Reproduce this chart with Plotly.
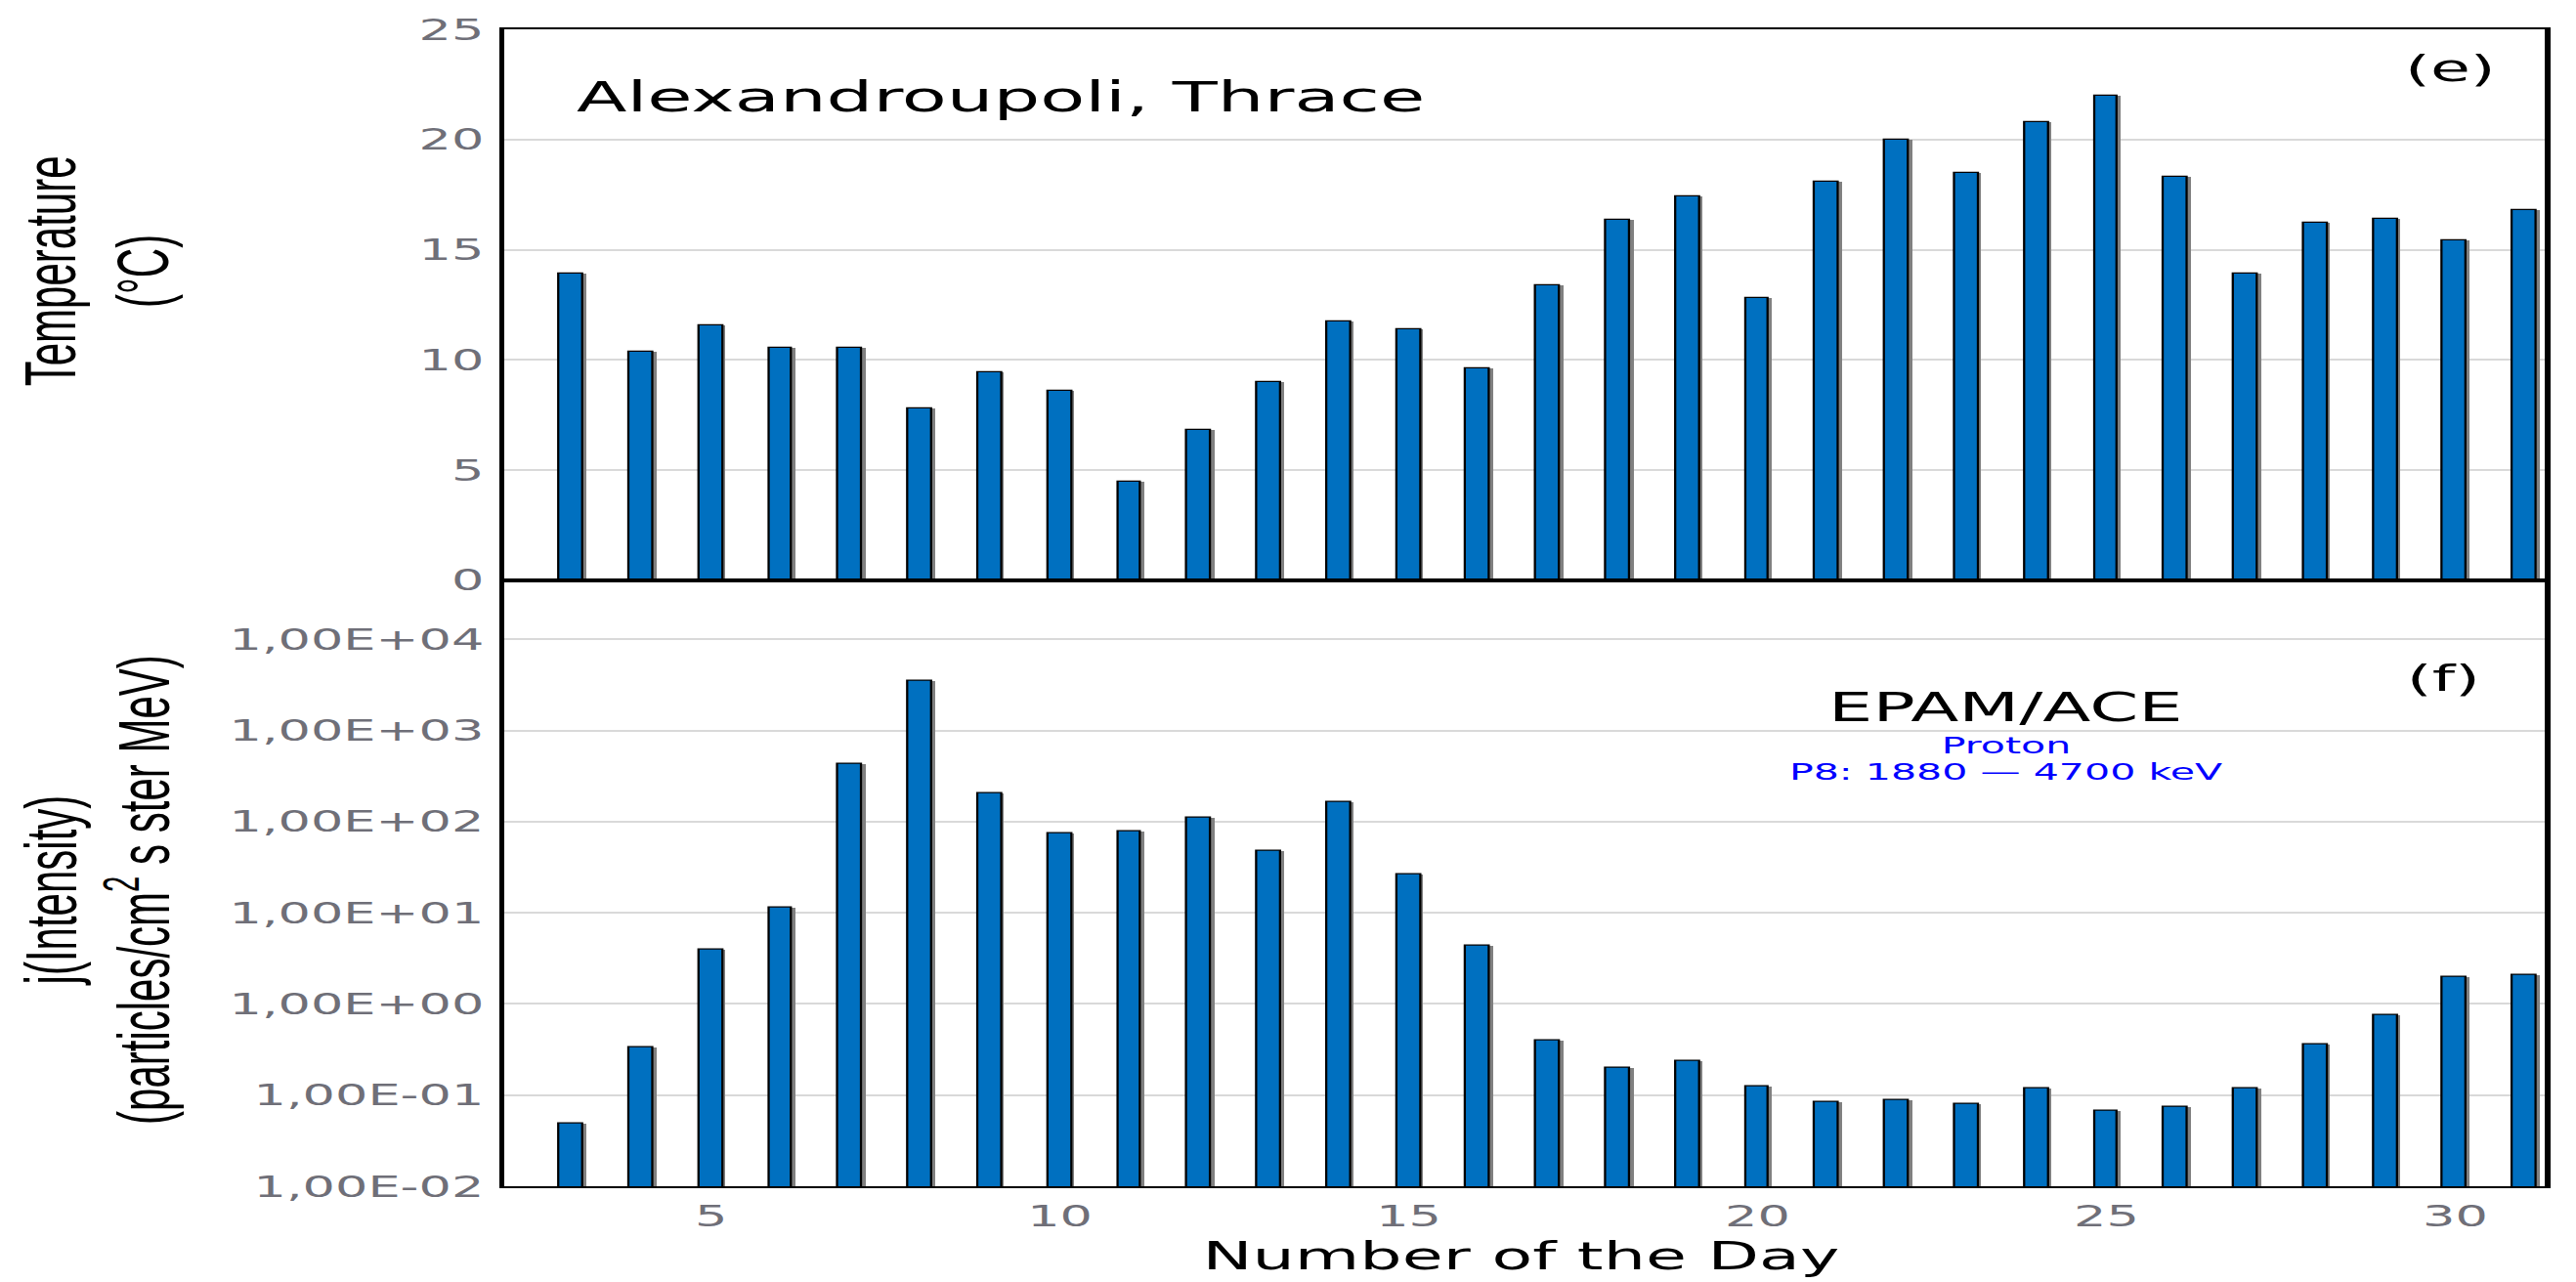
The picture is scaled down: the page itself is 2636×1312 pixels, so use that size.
import plotly.graph_objects as go

# ---------------- data ----------------
days = list(range(3, 32))
temperature = [13.9, 10.35, 11.55, 10.55, 10.55, 7.8, 9.45, 8.6, 4.45, 6.8, 9.0, 11.75, 11.4, 9.6,
               13.4, 16.35, 17.4, 12.8, 18.1, 20.0, 18.5, 20.8, 22.0, 18.3, 13.9, 16.2, 16.4, 15.4, 16.8]
intensity = [0.0484, 0.336, 3.92, 11.3, 432, 3490, 206, 74.5, 78.9, 111, 47.2, 164, 26.7, 4.34,
             0.399, 0.201, 0.234, 0.124, 0.085, 0.089, 0.080, 0.118, 0.068, 0.075, 0.118, 0.36,
             0.76, 1.96, 2.06]
temp_ticks = [0, 5, 10, 15, 20, 25]
log_ticks = [1e-2, 1e-1, 1e0, 1e1, 1e2, 1e3, 1e4]
log_ticktext = ["1,00E-02", "1,00E-01", "1,00E+00", "1,00E+01", "1,00E+02", "1,00E+03", "1,00E+04"]
day_ticks = [5, 10, 15, 20, 25, 30]

# ---------------- style ----------------
W_OUT, H = 2636, 1312
W = 1506                      # rendered width, stretched horizontally to W_OUT
S = W_OUT / W
BLUE = "rgb(0,112,192)"
SHADOW = "rgb(128,128,128)"
TICKCOL = "#6f6f78"
BW = 0.34
TICKFONT = dict(family="DejaVu Sans", size=30, color=TICKCOL)
TITLEFONT = "Liberation Sans Narrow, Arial Narrow, Liberation Sans, sans-serif"

fig = go.Figure()

for yax, vals in (("y", temperature), ("y2", intensity)):
    xa = "x" if yax == "y" else "x2"
    fig.add_trace(go.Bar(x=days, y=vals, width=BW, offset=-BW / 2 + 0.04,
                         marker=dict(color=SHADOW, line=dict(width=0)),
                         xaxis=xa, yaxis=yax, hoverinfo="skip", showlegend=False))
    fig.add_trace(go.Bar(x=days, y=vals, width=BW, offset=-BW / 2,
                         marker=dict(color=BLUE, line=dict(color="black", width=1.3)),
                         xaxis=xa, yaxis=yax, showlegend=False))

split = (1214 - 588) / 1195

common_x = dict(range=[2.04, 31.29], showline=True, linecolor="black", linewidth=2,
                mirror=True, showgrid=False, zeroline=False, ticks="")
fig.update_layout(
    width=W, height=H,
    margin=dict(l=295, r=18, t=19, b=98),
    paper_bgcolor="white", plot_bgcolor="white",
    barmode="overlay", bargap=0,
    xaxis=dict(domain=[0, 1], anchor="y", showticklabels=False, matches="x2", **common_x),
    yaxis=dict(domain=[split, 1], range=[0, 25], tickvals=temp_ticks,
               showline=True, linecolor="black", linewidth=3, mirror=True,
               showgrid=True, gridcolor="#d9d9d9", gridwidth=2, zeroline=False,
               tickfont=TICKFONT, ticks="", ticklabelstandoff=3),
    xaxis2=dict(domain=[0, 1], anchor="y2", tickvals=day_ticks, tickfont=TICKFONT,
                ticklabelstandoff=3, **common_x),
    yaxis2=dict(domain=[0, split], type="log", range=[-2, 4.648], tickvals=log_ticks,
                ticktext=log_ticktext, showline=True, linecolor="black", linewidth=3,
                mirror=True, showgrid=True, gridcolor="#d9d9d9", gridwidth=2,
                zeroline=False, tickfont=TICKFONT, ticks="", ticklabelstandoff=3),
)


def py(ypix):
    return (1214 - ypix) / 1195


def px(xpix_full):
    return (xpix_full / S - 295) / (1488 - 295)


ann = [
    dict(text="Alexandroupoli, Thrace", x=px(586), y=py(89), xanchor="left", yanchor="middle",
         font=dict(family="DejaVu Sans", size=43, color="black")),
    dict(text="(e)", x=px(2507), y=py(59), xanchor="center", yanchor="middle",
         font=dict(family="DejaVu Sans", size=38, color="black")),
    dict(text="(f)", x=px(2500), y=py(689), xanchor="center", yanchor="middle",
         font=dict(family="DejaVu Sans", size=38, color="black")),
    dict(text="EPAM/ACE", x=px(2053), y=py(719), xanchor="center", yanchor="middle",
         font=dict(family="DejaVu Sans", size=41, color="black")),
    dict(text="Proton", x=px(2053), y=py(759), xanchor="center", yanchor="middle",
         font=dict(family="DejaVu Sans", size=23.5, color="blue")),
    dict(text="P8: 1880 \u2014 4700 keV", x=px(2053), y=py(786), xanchor="center",
         yanchor="middle", font=dict(family="DejaVu Sans", size=23.5, color="blue")),
    dict(text="Number of the Day", x=px(1556), y=py(1286), xanchor="center", yanchor="middle",
         font=dict(family="DejaVu Sans", size=39, color="black")),
    dict(text="Temperature<br>(\u00b0C)", x=px(99), y=py(269), xanchor="center",
         yanchor="middle", textangle=-90,
         font=dict(family=TITLEFONT, size=42, color="black")),
    dict(text="j(Intensity)<br>(particles/cm<sup>2</sup> s ster MeV)", x=px(100), y=py(908),
         xanchor="center", yanchor="middle", textangle=-90,
         font=dict(family=TITLEFONT, size=42, color="black")),
]
for a in ann:
    a.update(xref="paper", yref="paper", showarrow=False)
fig.update_layout(annotations=ann)

post = """
document.body.style.margin = '0';
document.body.style.overflow = 'hidden';
var gd = document.getElementById('{plot_id}');
gd.style.transformOrigin = '0 0';
gd.style.transform = 'scaleX(%.5f)';
""" % S

fig.write_html("out.html", post_script=post, config={"displayModeBar": False})
